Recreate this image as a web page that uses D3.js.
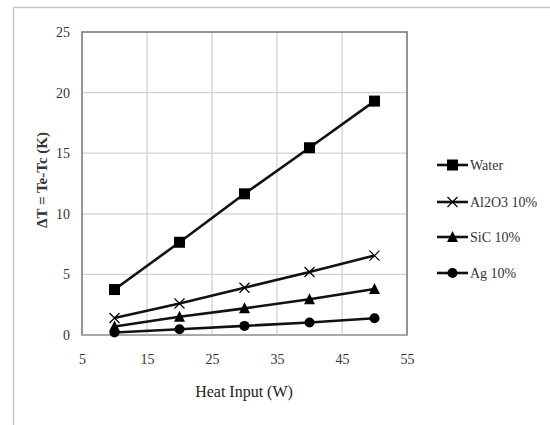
<!DOCTYPE html>
<html><head><meta charset="utf-8">
<script src="https://cdn.jsdelivr.net/npm/d3@7"></script>
<style>body{margin:0;background:#fff}svg{display:block}svg text{font-family:"Liberation Serif","DejaVu Serif",serif}</style>
</head><body>
<svg id="c" width="550" height="425"></svg>
<script>
const heatInput = [10, 20, 30, 40, 50];
const seriesNames = ["Water", "Al2O3 10%", "SiC 10%", "Ag 10%"];
const water = [3.75, 7.65, 11.65, 15.45, 19.3];
const al2o3 = [1.4, 2.6, 3.9, 5.2, 6.55];
const sic = [0.7, 1.5, 2.2, 2.95, 3.8];
const ag = [0.2, 0.47, 0.75, 1.03, 1.38];
const xTicks = [5, 15, 25, 35, 45, 55];
const yTicks = [0, 5, 10, 15, 20, 25];
const symbols = ["square", "cross", "triangle", "circle"];
const seriesValues = [water, al2o3, sic, ag];

(function () {
const svg = d3.select("#c");
const font = "Liberation Serif, DejaVu Serif, serif";
const pL = 82, pR = 407, pT = 32, pB = 335;
const x = d3.scaleLinear().domain([5, 55]).range([pL, pR]);
const y = d3.scaleLinear().domain([0, 25]).range([pB, pT]);

svg.append("path").attr("d", `M13.5,425 V7.5 H550`).attr("fill", "none").attr("stroke", "#c8c8c8").attr("stroke-width", 1.5);

svg.append("g").selectAll("line").data(xTicks.slice(1, -1)).join("line")
  .attr("x1", d => x(d)).attr("x2", d => x(d)).attr("y1", pT).attr("y2", pB)
  .attr("stroke", "#d2d2d2").attr("stroke-width", 1.3);
svg.append("g").selectAll("line").data(yTicks.slice(1, -1)).join("line")
  .attr("x1", pL).attr("x2", pR).attr("y1", d => y(d)).attr("y2", d => y(d))
  .attr("stroke", "#d2d2d2").attr("stroke-width", 1.3);

svg.append("rect").attr("x", pL).attr("y", pT).attr("width", pR - pL).attr("height", pB - pT)
  .attr("fill", "none").attr("stroke", "#7a7a7a").attr("stroke-width", 1.6);
svg.append("line").attr("x1", pL).attr("x2", pR).attr("y1", pB).attr("y2", pB)
  .attr("stroke", "#a8a8a8").attr("stroke-width", 2);

const xAxis = svg.append("g").attr("transform", `translate(0,${pB})`)
  .call(d3.axisBottom(x).tickValues(xTicks).tickSize(0).tickPadding(19).tickFormat(d3.format("d")));
const yAxis = svg.append("g").attr("transform", `translate(${pL},0)`)
  .call(d3.axisLeft(y).tickValues(yTicks).tickSize(0).tickPadding(12).tickFormat(d3.format("d")));
[xAxis, yAxis].forEach(a => {
  a.select(".domain").remove();
  a.selectAll("text").attr("font-family", font).attr("font-size", 14).attr("fill", "#333");
});

svg.append("text").attr("x", 244).attr("y", 397).attr("text-anchor", "middle")
  .attr("font-family", font).attr("font-size", 16).attr("fill", "#222").text("Heat Input (W)");
svg.append("text").attr("transform", "translate(47,180) rotate(-90)").attr("text-anchor", "middle")
  .attr("font-family", font).attr("font-size", 15).attr("font-weight", "bold").attr("fill", "#333")
  .text("ΔT = Te-Tc (K)");

function marker(g, type, cx, cy, s) {
  if (type === "square") {
    g.append("rect").attr("x", cx - s).attr("y", cy - s).attr("width", 2 * s).attr("height", 2 * s).attr("fill", "#000");
  } else if (type === "cross") {
    g.append("path").attr("d", `M${cx - s},${cy - s}L${cx + s},${cy + s}M${cx - s},${cy + s}L${cx + s},${cy - s}`)
      .attr("stroke", "#000").attr("stroke-width", 1.2);
  } else if (type === "triangle") {
    g.append("path").attr("d", `M${cx},${cy - s - 1}L${cx + s + 0.5},${cy + s}L${cx - s - 0.5},${cy + s}Z`).attr("fill", "#000");
  } else {
    g.append("circle").attr("cx", cx).attr("cy", cy).attr("r", s).attr("fill", "#000");
  }
}

const line = d3.line().x((d, i) => x(heatInput[i])).y(d => y(d));
const sizes = [5.5, 5, 5, 5];
seriesValues.slice().reverse().forEach((vals, ri) => {
  const k = seriesValues.length - 1 - ri;
  const g = svg.append("g");
  g.append("path").attr("d", line(vals)).attr("fill", "none").attr("stroke", "#111").attr("stroke-width", 2.6);
  vals.forEach((v, i) => marker(g, symbols[k], x(heatInput[i]), y(v), sizes[k]));
});

const legY = [165, 202, 237, 273];
seriesNames.forEach((n, k) => {
  const g = svg.append("g");
  g.append("line").attr("x1", 437).attr("x2", 468).attr("y1", legY[k]).attr("y2", legY[k])
    .attr("stroke", "#111").attr("stroke-width", 2.6);
  marker(g, symbols[k], 452.5, legY[k], sizes[k]);
  g.append("text").attr("x", 470).attr("y", legY[k] + 4.5).attr("font-family", font).attr("font-size", 14)
    .attr("fill", "#333").text(n);
});
})();
</script>
</body></html>
